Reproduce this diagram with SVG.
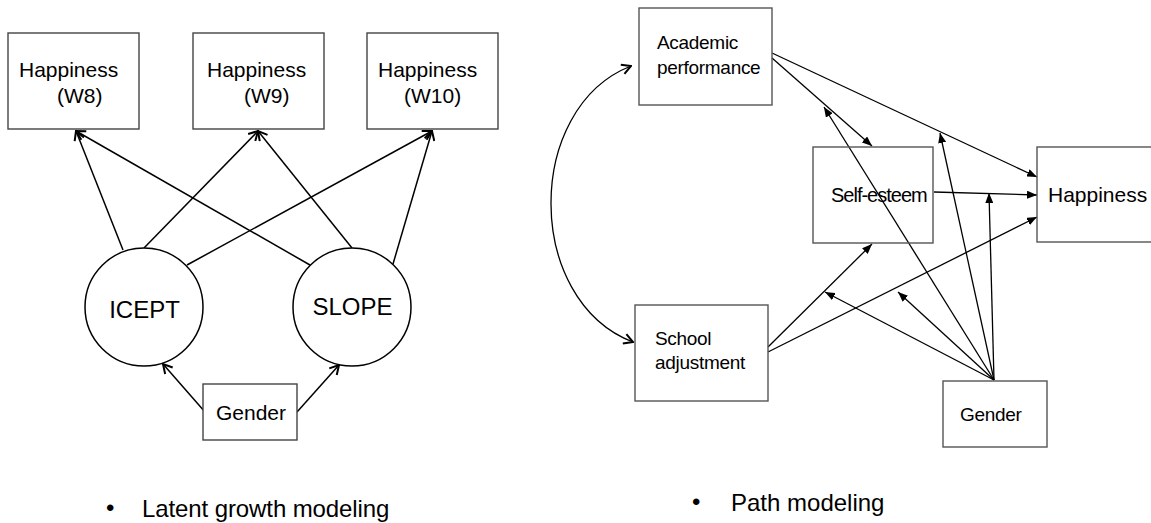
<svg xmlns="http://www.w3.org/2000/svg" width="1151" height="523" viewBox="0 0 1151 523">
<style>
.box{fill:#fff;stroke:#444;stroke-width:1.4}
.rbox{fill:none;stroke:#555;stroke-width:1.4}
.circ{fill:#fff;stroke:#000;stroke-width:1.5}
.t{font-family:"Liberation Sans",Arial,sans-serif;fill:#000}
.l{fill:none;stroke:#000;stroke-width:1.5}
.r{fill:none;stroke:#000;stroke-width:1.3}
</style>
<defs>
<marker id="open" viewBox="0 0 12 12" refX="11" refY="6" markerWidth="12" markerHeight="12" markerUnits="userSpaceOnUse" orient="auto-start-reverse">
<path d="M2,1 L11,6 L2,11" fill="none" stroke="#000" stroke-width="2"/>
</marker>
<marker id="tri" viewBox="0 0 10 8" refX="10" refY="4" markerWidth="10" markerHeight="8" markerUnits="userSpaceOnUse" orient="auto">
<path d="M0,0 L10,4 L0,8z" fill="#000"/>
</marker>
</defs>

<g id="connectors">
<!-- left panel -->
<line class="l" x1="123" y1="250" x2="76" y2="131" marker-end="url(#open)"/>
<line class="l" x1="144" y1="248" x2="258" y2="131" marker-end="url(#open)"/>
<line class="l" x1="187" y1="265" x2="432" y2="131" marker-end="url(#open)"/>
<line class="l" x1="310" y1="265" x2="76" y2="131" marker-end="url(#open)"/>
<line class="l" x1="352" y1="248" x2="258" y2="131" marker-end="url(#open)"/>
<line class="l" x1="393" y1="264" x2="432" y2="131" marker-end="url(#open)"/>
<line class="l" x1="205" y1="412" x2="163" y2="364" marker-end="url(#open)"/>
<line class="l" x1="297" y1="412" x2="339" y2="365" marker-end="url(#open)"/>
<!-- right panel -->
<path class="r" d="M631,66 C524,108 524,300 633,342" marker-start="url(#open)" marker-end="url(#open)"/>
<line class="r" x1="772" y1="53" x2="1037" y2="177" marker-end="url(#tri)"/>
<line class="r" x1="772" y1="58" x2="872" y2="146" marker-end="url(#tri)"/>
<line class="r" x1="934" y1="192" x2="1037" y2="195" marker-end="url(#tri)"/>
<line class="r" x1="768" y1="347" x2="872" y2="244" marker-end="url(#tri)"/>
<line class="r" x1="768" y1="352" x2="1037" y2="217" marker-end="url(#tri)"/>
<line class="r" x1="994" y1="380" x2="824" y2="107" marker-end="url(#tri)"/>
<line class="r" x1="994" y1="380" x2="940" y2="133" marker-end="url(#tri)"/>
<line class="r" x1="994" y1="380" x2="989" y2="193" marker-end="url(#tri)"/>
<line class="r" x1="994" y1="380" x2="825" y2="292" marker-end="url(#tri)"/>
<line class="r" x1="994" y1="380" x2="898" y2="292" marker-end="url(#tri)"/>
</g>

<g id="happiness-w8">
<rect class="box" x="8" y="33" width="131" height="96"/>
<text class="t" x="19" y="77" font-size="21">Happiness</text>
<text class="t" x="57" y="103" font-size="21">(W8)</text>
</g>
<g id="happiness-w9">
<rect class="box" x="193" y="33" width="131" height="96"/>
<text class="t" x="207" y="77" font-size="21">Happiness</text>
<text class="t" x="244" y="103" font-size="21">(W9)</text>
</g>
<g id="happiness-w10">
<rect class="box" x="367" y="33" width="131" height="96"/>
<text class="t" x="378" y="77" font-size="21">Happiness</text>
<text class="t" x="404" y="103" font-size="21">(W10)</text>
</g>
<g id="icept">
<circle class="circ" cx="144" cy="307" r="59"/>
<text class="t" x="144.5" y="318" font-size="24" text-anchor="middle">ICEPT</text>
</g>
<g id="slope">
<circle class="circ" cx="352" cy="307" r="59"/>
<text class="t" x="352.5" y="315" font-size="24" text-anchor="middle">SLOPE</text>
</g>
<g id="gender-left">
<rect class="box" x="203" y="384" width="94" height="56"/>
<text class="t" x="216" y="420" font-size="21">Gender</text>
</g>

<g id="academic">
<rect class="rbox" x="639" y="8" width="133" height="97"/>
<text class="t" x="657" y="49" font-size="19" letter-spacing="-0.3">Academic</text>
<text class="t" x="657" y="74" font-size="19" letter-spacing="-0.3">performance</text>
</g>
<g id="self-esteem">
<rect class="rbox" x="813" y="147" width="120" height="96"/>
<text class="t" x="831" y="202" font-size="20" letter-spacing="-1">Self-esteem</text>
</g>
<g id="happiness">
<rect class="rbox" x="1037" y="147" width="120" height="95"/>
<text class="t" x="1048" y="202" font-size="21">Happiness</text>
</g>
<g id="school">
<rect class="rbox" x="635" y="305" width="133" height="96"/>
<text class="t" x="655" y="345" font-size="19" letter-spacing="-0.3">School</text>
<text class="t" x="655" y="369" font-size="19" letter-spacing="-0.3">adjustment</text>
</g>
<g id="gender-right">
<rect class="rbox" x="943" y="381" width="104" height="66"/>
<text class="t" x="960" y="421" font-size="19" letter-spacing="-0.3">Gender</text>
</g>

<g id="captions">
<text class="t" x="106" y="516" font-size="24">•</text>
<text class="t" x="142" y="517" font-size="24" letter-spacing="-0.1">Latent growth modeling</text>
<text class="t" x="692" y="510" font-size="24">•</text>
<text class="t" x="731" y="511" font-size="24">Path modeling</text>
</g>
</svg>
